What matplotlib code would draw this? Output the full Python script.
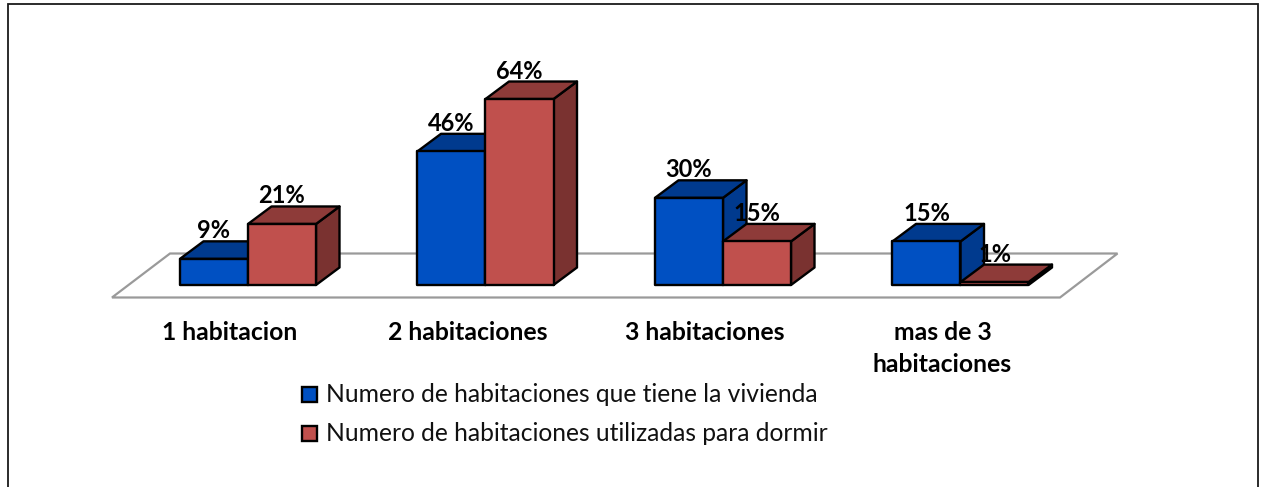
import matplotlib
matplotlib.use("Agg")
import matplotlib.pyplot as plt
from matplotlib.patches import Polygon, Rectangle

categories = ["1 habitacion", "2 habitaciones", "3 habitaciones", "mas de 3\nhabitaciones"]
series_names = ["Numero de habitaciones que tiene la vivienda",
                "Numero de habitaciones utilizadas para dormir"]
vivienda = [9, 46, 30, 15]
dormir = [21, 64, 15, 1]

W, H = 1264, 487
X0, DX = 248.0, 237.5      # pixel of first category boundary, px per category
Y0, PY = 285.0, 2.906      # pixel of 0 %, px per %
BAR_W = 68 / DX
DEPTH_X, DEPTH_Y = 23.5 / DX, 17.5 / PY

plt.rcParams['font.family'] = ['Lato', 'DejaVu Sans']
fig = plt.figure(figsize=(W / 100, H / 100), dpi=100)
ax = fig.add_axes([0, 0, 1, 1])
ax.set_xlim((0 - X0) / DX, (W - X0) / DX)
ax.set_ylim((Y0 - H) / PY, Y0 / PY)
ax.axis("off")

def px(x, y):
    return ((x - X0) / DX, (Y0 - y) / PY)

# outer frame: open at the bottom, it runs off the image
ax.plot(*zip(px(8, 490), px(8, 4), px(1258, 4), px(1258, 490)), color="#1a1a1a", lw=1.3,
        solid_joinstyle="miter", zorder=1)
# floor
ax.add_patch(Polygon([px(112, 297.5), px(170, 253.5), px(1117.5, 253.5), px(1060, 297.5)],
                     closed=True, fc="white", ec="#9a9a9a", lw=1.6, zorder=2))

COLORS = {
    0: ("#0050C2", "#003A8E", "#003A8E"),
    1: ("#C0504D", "#8E3B39", "#7A3230"),
}

def bar3d(x, v, cols, z):
    front, top, side = cols
    kw = dict(closed=True, ec="black", lw=1.7, joinstyle="round", zorder=z)
    ax.add_patch(Polygon([(x + BAR_W, 0), (x + BAR_W + DEPTH_X, DEPTH_Y),
                          (x + BAR_W + DEPTH_X, v + DEPTH_Y), (x + BAR_W, v)], fc=side, **kw))
    ax.add_patch(Polygon([(x, v), (x + DEPTH_X, v + DEPTH_Y),
                          (x + BAR_W + DEPTH_X, v + DEPTH_Y), (x + BAR_W, v)], fc=top, **kw))
    ax.add_patch(Polygon([(x, 0), (x + BAR_W, 0), (x + BAR_W, v), (x, v)], fc=front, **kw))

for i, (a, b) in enumerate(zip(vivienda, dormir)):
    bar3d(i - BAR_W, a, COLORS[0], 3 + 2 * i)
    bar3d(i, b, COLORS[1], 4 + 2 * i)

LABEL_Z = 30
LABEL_LIFT = 28 / PY
for i, (a, b) in enumerate(zip(vivienda, dormir)):
    for x, v in ((i - BAR_W / 2, a), (i + BAR_W / 2, b)):
        ax.text(x, v + LABEL_LIFT, f"{v}%", ha="center", va="center",
                fontsize=17, fontweight="bold", color="black", zorder=LABEL_Z)

CAT_SHIFT = -18 / DX
for i, c in enumerate(categories):
    for line, yy in zip(c.split("\n"), (333, 365)):
        ax.text(i + CAT_SHIFT, px(0, yy)[1], line, ha="center", va="center",
                fontsize=17.8, fontweight="bold", color="black", zorder=LABEL_Z)

for j, (name, yy) in enumerate(zip(series_names, (394.5, 433.5))):
    ax.add_patch(Rectangle(px(302.5, yy + 7.5), 15 / DX, 15 / PY, fc=COLORS[j][0], ec="black",
                           lw=1.7, zorder=LABEL_Z))
    xt, yt = px(326, yy)
    ax.text(xt, yt, name, ha="left", va="center", fontsize=17.7, color="#111111", zorder=LABEL_Z)

fig.savefig("out.png", dpi=100)
